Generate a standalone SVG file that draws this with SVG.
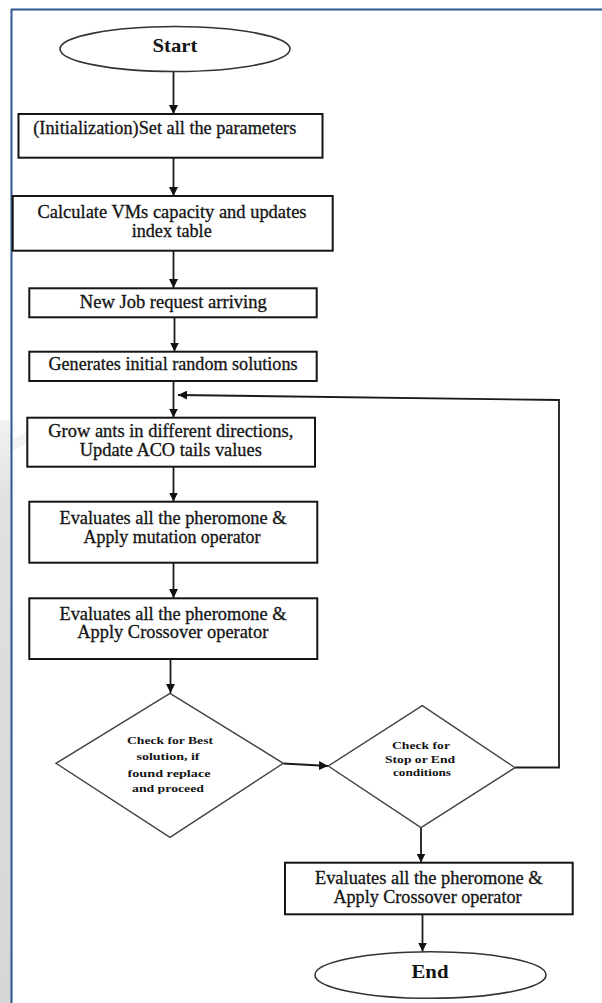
<svg xmlns="http://www.w3.org/2000/svg" width="602" height="1003" viewBox="0 0 602 1003">
  <defs>
    <marker id="arr" viewBox="0 0 10 10" refX="10" refY="5" markerWidth="9" markerHeight="9" markerUnits="userSpaceOnUse" orient="auto">
      <path d="M0,0 L10,5 L0,10 z" fill="#111"/>
    </marker>
    <linearGradient id="strip" x1="0" y1="0" x2="0" y2="1">
      <stop offset="0" stop-color="#f2f2f2"/>
      <stop offset="0.15" stop-color="#e0e0e0"/>
      <stop offset="1" stop-color="#d6d6d6"/>
    </linearGradient>
    <style>
      .box { fill: #fff; stroke: #151515; stroke-width: 2; }
      .dia { fill: #fff; stroke: #444; stroke-width: 1.4; }
      .ell { fill: #fff; stroke: #333; stroke-width: 1.6; }
      .t { font-family: "Liberation Serif", "Times New Roman", serif; font-size: 18px; fill: #141414; stroke: #141414; stroke-width: 0.3; text-anchor: middle; }
      .tb { font-family: "Liberation Serif", "Times New Roman", serif; font-size: 19px; font-weight: bold; fill: #141414; text-anchor: middle; }
      .ts { font-family: "Liberation Serif", "Times New Roman", serif; font-size: 11px; font-weight: bold; fill: #141414; text-anchor: middle; }
      .c { fill: none; stroke: #1a1a1a; stroke-width: 1.8; marker-end: url(#arr); }
    </style>
  </defs>

  <rect x="0" y="0" width="602" height="1003" fill="#fff"/>
  <g id="background">
    <rect x="0" y="420" width="11" height="583" fill="url(#strip)"/>
    <path d="M12,440 C30,428 55,420 80,416 L80,422 C55,428 32,440 12,452 z" fill="#eeeeee" opacity="0.7"/>
    <path d="M11,9.5 H602 M11.5,9 V1003" fill="none" stroke="#2f5592" stroke-width="2"/>
  </g>

  <g id="connectors">
    <path class="c" d="M173.5,72 V114"/>
    <path class="c" d="M173.5,158 V196"/>
    <path class="c" d="M173.5,251 V288"/>
    <path class="c" d="M174.5,317.5 V351.5"/>
    <path class="c" d="M173.5,381 V417.5"/>
    <path class="c" d="M173.5,467 V501.5"/>
    <path class="c" d="M173.5,563 V598"/>
    <path class="c" d="M170.5,659 V693"/>
    <path class="c" d="M283.5,763.5 L328,766"/>
    <path class="c" d="M421,828 V862.5"/>
    <path class="c" d="M422.5,914.5 V951.5"/>
    <path class="c" d="M515,767.5 H559 V400 L178,395"/>
  </g>

  <g id="start">
    <ellipse class="ell" cx="175" cy="49" rx="115" ry="22.5"/>
    <text class="tb" x="175" y="51.7" textLength="45" lengthAdjust="spacingAndGlyphs">Start</text>
  </g>

  <g id="init">
    <rect class="box" x="18.5" y="114" width="304" height="43.7"/>
    <text class="t" x="33.3" y="133.5" style="text-anchor:start" textLength="263" lengthAdjust="spacingAndGlyphs">(Initialization)Set all the parameters</text>
  </g>

  <g id="calc">
    <rect class="box" x="12.7" y="196" width="320" height="54.7"/>
    <text class="t" x="172" y="218.3" textLength="269" lengthAdjust="spacingAndGlyphs">Calculate VMs capacity and updates</text>
    <text class="t" x="171.7" y="236.7" textLength="80" lengthAdjust="spacingAndGlyphs">index table</text>
  </g>

  <g id="newjob">
    <rect class="box" x="29.3" y="288.3" width="287.4" height="29"/>
    <text class="t" x="173.3" y="308.3" textLength="187" lengthAdjust="spacingAndGlyphs">New Job request arriving</text>
  </g>

  <g id="generate">
    <rect class="box" x="29.3" y="351.7" width="287.4" height="29.3"/>
    <text class="t" x="173" y="370" textLength="249" lengthAdjust="spacingAndGlyphs">Generates initial random solutions</text>
  </g>

  <g id="grow">
    <rect class="box" x="27.3" y="417.7" width="287.7" height="49"/>
    <text class="t" x="170.8" y="437.3" textLength="245" lengthAdjust="spacingAndGlyphs">Grow ants in different directions,</text>
    <text class="t" x="170.8" y="456" textLength="182" lengthAdjust="spacingAndGlyphs">Update ACO tails values</text>
  </g>

  <g id="mutation">
    <rect class="box" x="29.3" y="501.7" width="288" height="61"/>
    <text class="t" x="173" y="524" textLength="227" lengthAdjust="spacingAndGlyphs">Evaluates all the pheromone &amp;</text>
    <text class="t" x="172" y="543.3" textLength="177" lengthAdjust="spacingAndGlyphs">Apply mutation operator</text>
  </g>

  <g id="crossover1">
    <rect class="box" x="29.3" y="598.3" width="288" height="60.7"/>
    <text class="t" x="173" y="620" textLength="227" lengthAdjust="spacingAndGlyphs">Evaluates all the pheromone &amp;</text>
    <text class="t" x="172.8" y="638.3" textLength="191" lengthAdjust="spacingAndGlyphs">Apply Crossover operator</text>
  </g>

  <g id="checkbest">
    <polygon class="dia" points="170,693.3 283.3,763.3 170,837.3 56,763.3"/>
    <text class="ts" x="170" y="744" textLength="86" lengthAdjust="spacingAndGlyphs">Check for Best</text>
    <text class="ts" x="168" y="760" textLength="63" lengthAdjust="spacingAndGlyphs">solution, if</text>
    <text class="ts" x="169" y="776.7" textLength="83" lengthAdjust="spacingAndGlyphs">found  replace</text>
    <text class="ts" x="168" y="792" textLength="72" lengthAdjust="spacingAndGlyphs">and proceed</text>
  </g>

  <g id="checkstop">
    <polygon class="dia" points="422.3,705.7 515,767.7 421,827.7 328.3,766"/>
    <text class="ts" x="421" y="749.3" textLength="58" lengthAdjust="spacingAndGlyphs">Check for</text>
    <text class="ts" x="420" y="762.7" textLength="70" lengthAdjust="spacingAndGlyphs">Stop or End</text>
    <text class="ts" x="422" y="776" textLength="58" lengthAdjust="spacingAndGlyphs">conditions</text>
  </g>

  <g id="crossover2">
    <rect class="box" x="285" y="862.7" width="287.7" height="51.6"/>
    <text class="t" x="428.8" y="884" textLength="227.7" lengthAdjust="spacingAndGlyphs">Evaluates all the pheromone &amp;</text>
    <text class="t" x="427.5" y="903.3" textLength="188" lengthAdjust="spacingAndGlyphs">Apply Crossover operator</text>
  </g>

  <g id="end">
    <ellipse class="ell" cx="430.5" cy="975" rx="115.5" ry="23.3"/>
    <text class="tb" x="430" y="977.5" textLength="37" lengthAdjust="spacingAndGlyphs">End</text>
  </g>
</svg>
